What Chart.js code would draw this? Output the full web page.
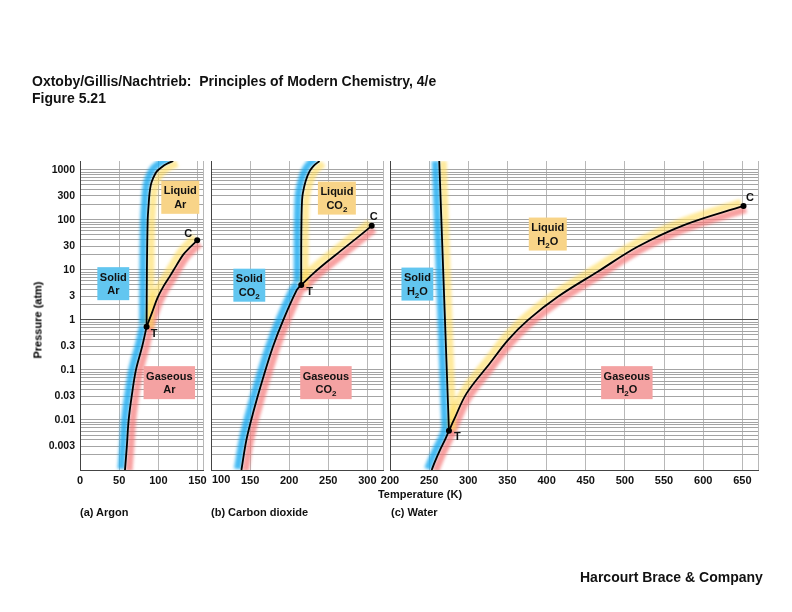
<!DOCTYPE html>
<html>
<head>
<meta charset="utf-8">
<title>Figure 5.21 - Phase diagrams</title>
<script src="https://cdn.jsdelivr.net/npm/chart.js@4.4.1/dist/chart.umd.min.js"></script>
<style>
  html, body { margin: 0; padding: 0; background: #fff; }
  #page {
    position: relative; width: 792px; height: 612px; overflow: hidden;
    font-family: "Liberation Sans", Arial, Helvetica, sans-serif; font-weight: bold; color: #111;
  }
  #page canvas { position: absolute; left: 0; top: 0; }
  .txt { position: absolute; white-space: nowrap; }
  #title { left: 32px; top: 73px; font-size: 14px; line-height: 17px; }
  #footer { left: 580px; top: 569px; font-size: 14px; line-height: 16px; }
  #ytitle { left: 38px; top: 320px; font-size: 11px; line-height: 13px; color: #000; transform: translate(-50%, -50%) rotate(-90deg); }
  #xtitle { left: 420px; top: 488px; font-size: 11px; line-height: 13px; transform: translateX(-50%); }
  .cap { top: 506px; font-size: 11px; line-height: 13px; }
</style>
</head>
<body>
<div id="page">
  <canvas id="chartA" width="792" height="612"></canvas>
  <canvas id="chartB" width="792" height="612"></canvas>
  <canvas id="chartC" width="792" height="612"></canvas>
  <div class="txt" id="title">Oxtoby/Gillis/Nachtrieb:&nbsp; Principles of Modern Chemistry, 4/e<br>Figure 5.21</div>
  <div class="txt" id="ytitle">Pressure (atm)</div>
  <div class="txt" id="xtitle">Temperature (K)</div>
  <div class="txt cap" style="left:80px">(a) Argon</div>
  <div class="txt cap" style="left:211px">(b) Carbon dioxide</div>
  <div class="txt cap" style="left:391px">(c) Water</div>
  <div class="txt" id="footer">Harcourt Brace &amp; Company</div>
</div>
<script>
// ---- data (T in K, P in atm) ----
const Y_LABELS = [1000, 300, 100, 30, 10, 3, 1, 0.3, 0.1, 0.03, 0.01, 0.003];
const Y_MIN = 0.001, Y_MAX = 1500;

const X_TICKS_A = [0, 50, 100, 150];
const X_TICKS_B = [100, 150, 200, 250, 300];
const X_TICKS_C = [200, 250, 300, 350, 400, 450, 500, 550, 600, 650];

// argon
const AR_SUB_T = [57.4, 59.8, 62.1, 66.0, 71.4, 79.5, 85.0];
const AR_SUB_P = [0.001, 0.003, 0.01, 0.03, 0.1, 0.3, 0.73];
const AR_MELT_T = [85.0, 85.4, 86.4, 87.6, 88.6, 90.4, 93.5, 98.0, 104.2, 111.0, 119.0];
const AR_MELT_P = [0.73, 10, 100, 200, 320, 500, 690, 930, 1130, 1320, 1500];
const AR_VAP_T = [85.0, 91.8, 98.9, 106.5, 114.8, 123.5, 131.8, 141.0, 149.6];
const AR_VAP_P = [0.73, 1.38, 2.75, 4.68, 7.5, 12.6, 20.2, 28.8, 39.0];

// carbon dioxide
const CO2_SUB_T = [138.9, 145.3, 153.7, 166.5, 179.2, 192.5, 209.8, 215.4];
const CO2_SUB_P = [0.001, 0.004, 0.0136, 0.068, 0.29, 1.0, 3.98, 5.0];
const CO2_MELT_T = [215.4, 215.4, 215.8, 216.5, 217.5, 221.0, 226.0, 231.3, 238.8];
const CO2_MELT_P = [5.0, 30, 120, 250, 342, 590, 929, 1200, 1500];
const CO2_VAP_T = [215.4, 231.7, 248.4, 265.0, 280.3, 293.1, 305.5];
const CO2_VAP_P = [5.0, 8.71, 14.5, 23.4, 36.3, 52.5, 75.9];

// water
const H2O_SUB_T = [253.2, 257.4, 263.8, 270.2, 275.3];
const H2O_SUB_P = [0.001, 0.00147, 0.0025, 0.004, 0.0061];
const H2O_MELT_T = [275.3, 270.2, 262.9];
const H2O_MELT_P = [0.0061, 1, 1500];
const H2O_VAP_T = [275.3, 281.6, 297.8, 327.6, 350.9, 376.4, 414.7, 465.7, 516.7, 576.3, 651.5];
const H2O_VAP_P = [0.0061, 0.01, 0.034, 0.136, 0.398, 1.0, 2.93, 9.3, 29.3, 79.4, 190];

// triple (T) and critical (C) points
const AR_TRIPLE = [85.0, 0.73], AR_CRIT = [149.6, 39.0];
const CO2_TRIPLE = [215.4, 5.0], CO2_CRIT = [305.5, 75.9];
const H2O_TRIPLE = [275.3, 0.0061], H2O_CRIT = [651.5, 190];

// ---- styles ----
const FONT_FAMILY = '"Liberation Sans", Arial, Helvetica, sans-serif';
const INK = '#111';
const BLUE_BAND = 'rgba(25,170,240,0.8)';
const YELLOW_BAND = 'rgba(255,220,90,0.6)';
const PINK_BAND = 'rgba(245,120,120,0.7)';
const SOLID_BOX = '#62c6f0';
const LIQUID_BOX = '#f8d488';
const GAS_BOX = '#f4a2a2';

const AR = [['Ar', 0]];
const CO2 = [['CO', 0], ['2', 1]];
const H2O = [['H', 0], ['2', 1], ['O', 0]];

// log grid: 1..9 in each decade
const Y_GRID = [];
for (let k = -3; k <= 3; k++) {
    for (let m = 1; m <= 9; m++) {
        const v = +(m * Math.pow(10, k)).toPrecision(2);
        if (v >= Y_MIN && v <= Y_MAX) Y_GRID.push(v);
    }
}

function pts(T, P) {
    return T.map((t, i) => ({ x: t, y: P[i] }));
}

function curve(T, P, bandA, bandB) {
    return { data: pts(T, P), bands: [bandA, bandB] };
}

const SUB_BANDS = [{ color: BLUE_BAND, shift: [-4, -1] }, { color: PINK_BAND, shift: [4, 1] }];
const MELT_BANDS = [{ color: BLUE_BAND, shift: [-4, -2.5] }, { color: YELLOW_BAND, shift: [4, 2.5] }];
const VAP_BANDS = [{ color: YELLOW_BAND, shift: [-2.5, -3.5] }, { color: PINK_BAND, shift: [2.5, 3.5] }];

const PANELS = [
    {
        canvas: 'chartA', left: 80, right: 203, xMin: 0, xMax: 157, xTicks: X_TICKS_A, showY: true,
        curves: [
            curve(AR_SUB_T, AR_SUB_P, ...SUB_BANDS),
            curve(AR_MELT_T, AR_MELT_P, ...MELT_BANDS),
            curve(AR_VAP_T, AR_VAP_P, ...VAP_BANDS)
        ],
        marks: [
            { p: AR_TRIPLE, text: 'T', dx: 7.5, dy: 7 },
            { p: AR_CRIT, text: 'C', dx: -9, dy: -6 }
        ],
        regions: [
            { name: 'Solid', formula: AR, T: 42.5, P: 5.3, fill: SOLID_BOX },
            { name: 'Liquid', formula: AR, T: 128, P: 282, fill: LIQUID_BOX },
            { name: 'Gaseous', formula: AR, T: 114, P: 0.0557, fill: GAS_BOX }
        ]
    },
    {
        canvas: 'chartB', left: 211, right: 383, xMin: 100, xMax: 320, xTicks: X_TICKS_B, showY: false, edgeLabel: true,
        curves: [
            curve(CO2_SUB_T, CO2_SUB_P, ...SUB_BANDS),
            curve(CO2_MELT_T, CO2_MELT_P, ...MELT_BANDS),
            curve(CO2_VAP_T, CO2_VAP_P, ...VAP_BANDS)
        ],
        marks: [
            { p: CO2_TRIPLE, text: 'T', dx: 8.5, dy: 7 },
            { p: CO2_CRIT, text: 'C', dx: 2, dy: -8.5 }
        ],
        regions: [
            { name: 'Solid', formula: CO2, T: 149, P: 4.94, fill: SOLID_BOX },
            { name: 'Liquid', formula: CO2, T: 261, P: 272, fill: LIQUID_BOX },
            { name: 'Gaseous', formula: CO2, T: 247, P: 0.0557, fill: GAS_BOX }
        ]
    },
    {
        canvas: 'chartC', left: 390, right: 758, xMin: 200, xMax: 670, xTicks: X_TICKS_C, showY: false,
        curves: [
            curve(H2O_SUB_T, H2O_SUB_P, ...SUB_BANDS),
            curve(H2O_MELT_T, H2O_MELT_P, { color: BLUE_BAND, shift: [-4, 0] }, { color: YELLOW_BAND, shift: [4, 0] }),
            curve(H2O_VAP_T, H2O_VAP_P, ...VAP_BANDS)
        ],
        marks: [
            { p: H2O_TRIPLE, text: 'T', dx: 8.5, dy: 6 },
            { p: H2O_CRIT, text: 'C', dx: 6.5, dy: -7.5 }
        ],
        regions: [
            { name: 'Solid', formula: H2O, T: 235, P: 5.2, fill: SOLID_BOX },
            { name: 'Liquid', formula: H2O, T: 401.5, P: 52, fill: LIQUID_BOX },
            { name: 'Gaseous', formula: H2O, T: 502.5, P: 0.0557, fill: GAS_BOX }
        ]
    }
];

// shifted, blurred copies of a curve give the coloured glow on each side
const bandPlugin = {
    id: 'bandShift',
    beforeDatasetDraw(chart, args) {
        const ds = chart.data.datasets[args.index];
        if (!ds.shift) return;
        const ctx = chart.ctx;
        ctx.save();
        ctx.translate(ds.shift[0], ds.shift[1]);
        ctx.filter = 'blur(1.5px)';
    },
    afterDatasetDraw(chart, args) {
        const ds = chart.data.datasets[args.index];
        if (ds.shift) chart.ctx.restore();
    }
};

function richWidth(ctx, segs) {
    let w = 0;
    segs.forEach(s => {
        ctx.font = (s[1] ? 'bold 8px ' : 'bold 11px ') + FONT_FAMILY;
        w += ctx.measureText(s[0]).width;
    });
    return w;
}

function drawRich(ctx, segs, cx, y) {
    let x = cx - richWidth(ctx, segs) / 2;
    ctx.textAlign = 'left';
    segs.forEach(s => {
        ctx.font = (s[1] ? 'bold 8px ' : 'bold 11px ') + FONT_FAMILY;
        ctx.fillText(s[0], x, s[1] ? y + 3 : y);
        x += ctx.measureText(s[0]).width;
    });
}

function makeLabelPlugin(p) {
    return {
        id: 'phaseLabels',
        afterDatasetsDraw(chart) {
            const ctx = chart.ctx;
            const xs = chart.scales.x, ys = chart.scales.y;
            ctx.save();
            ctx.textBaseline = 'alphabetic';
            p.regions.forEach(r => {
                const cx = xs.getPixelForValue(r.T), cy = ys.getPixelForValue(r.P);
                ctx.font = 'bold 11px ' + FONT_FAMILY;
                const w = Math.max(ctx.measureText(r.name).width, richWidth(ctx, r.formula)) + 5;
                const h = 33;
                ctx.fillStyle = r.fill;
                ctx.fillRect(cx - w / 2, cy - h / 2, w, h);
                ctx.fillStyle = INK;
                ctx.font = 'bold 11px ' + FONT_FAMILY;
                ctx.textAlign = 'center';
                ctx.fillText(r.name, cx, cy - 3);
                drawRich(ctx, r.formula, cx, cy + 10.5);
            });
            ctx.font = 'bold 11px ' + FONT_FAMILY;
            ctx.textAlign = 'center';
            ctx.textBaseline = 'middle';
            p.marks.forEach(m => {
                ctx.fillText(m.text, xs.getPixelForValue(m.p[0]) + m.dx, ys.getPixelForValue(m.p[1]) + m.dy);
            });
            if (p.edgeLabel) {
                // first tick sits on the panel edge: put its label inside
                ctx.textAlign = 'left';
                ctx.textBaseline = 'top';
                ctx.fillText(String(p.xTicks[0]), xs.left + 1, xs.top + 4);
            }
            ctx.restore();
        }
    };
}

const X_AXIS_H = 30;   // room for the tick labels under the plot
const Y_AXIS_W = 75;   // room for the pressure labels (panel a only)

function buildPanel(p) {
    const datasets = [];
    p.curves.forEach(c => {
        datasets.push({
            data: c.data, showLine: true, borderColor: '#000', borderWidth: 1.8,
            pointRadius: 0, tension: 0.35, order: 1
        });
        c.bands.forEach(b => {
            datasets.push({
                data: c.data, showLine: true, borderColor: b.color, borderWidth: 7,
                pointRadius: 0, tension: 0.35, order: 2, shift: b.shift,
                clip: { left: b.shift[0], right: -b.shift[0], top: b.shift[1], bottom: -b.shift[1] }
            });
        });
    });
    datasets.push({
        data: p.marks.map(m => ({ x: m.p[0], y: m.p[1] })),
        showLine: false, pointRadius: 3, pointBackgroundColor: '#000', pointBorderColor: '#000',
        pointBorderWidth: 0, order: 0, clip: false
    });

    const tickFont = { family: FONT_FAMILY, size: 11, weight: 'bold' };
    const yW = p.showY ? Y_AXIS_W : 0;

    return new Chart(document.getElementById(p.canvas), {
        type: 'scatter',
        data: { datasets: datasets },
        options: {
            responsive: false,
            animation: false,
            devicePixelRatio: 1,
            events: [],
            layout: { padding: { left: p.left - yW, right: 792 - p.right, top: 161, bottom: 142 - X_AXIS_H } },
            scales: {
                x: {
                    type: 'linear',
                    min: p.xMin,
                    max: p.xMax,
                    afterBuildTicks: s => { s.ticks = p.xTicks.concat([p.xMax]).map(v => ({ value: v })); },
                    afterFit: s => { s.height = X_AXIS_H; },
                    grid: { color: '#b8b8b8', lineWidth: 1, drawTicks: false },
                    border: { color: '#444', width: 1 },
                    ticks: {
                        padding: 4, autoSkip: false, maxRotation: 0, color: INK, font: tickFont,
                        callback: v => (p.xTicks.includes(v) && !(p.edgeLabel && v === p.xTicks[0])) ? String(v) : ''
                    }
                },
                y: {
                    type: 'logarithmic',
                    min: Y_MIN,
                    max: Y_MAX,
                    afterBuildTicks: s => { s.ticks = Y_GRID.map(v => ({ value: v })); },
                    afterFit: s => { s.width = yW; },
                    grid: {
                        color: c => (c.tick && c.tick.value === 1) ? '#555' : '#a4a4a4',
                        lineWidth: 1, drawTicks: false
                    },
                    border: { color: '#444', width: 1 },
                    ticks: {
                        display: p.showY, padding: 5, autoSkip: false, color: INK,
                        font: { family: FONT_FAMILY, size: 10.5, weight: 'bold' },
                        callback: v => Y_LABELS.includes(v) ? String(v) : ''
                    }
                }
            },
            plugins: {
                legend: { display: false },
                tooltip: { enabled: false }
            }
        },
        plugins: [bandPlugin, makeLabelPlugin(p)]
    });
}

PANELS.forEach(buildPanel);
</script>
</body>
</html>
